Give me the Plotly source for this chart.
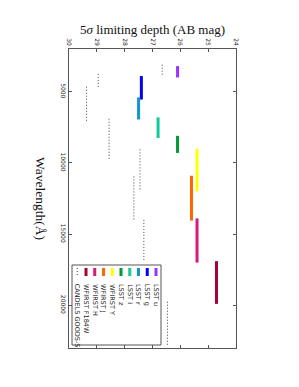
import plotly.graph_objects as go

# ---- data ----
filters = ["LSST u", "LSST g", "LSST r", "LSST i", "LSST z",
           "WFIRST Y", "WFIRST J", "WFIRST H", "WFIRST F184W"]
filter_colors = ["#9933ff", "#0000ff", "#1094d2", "#11cc99", "#009933",
                 "#ffff00", "#ff6600", "#d6197a", "#a8003a"]
wl_min = [3200, 3900, 5400, 6800, 8100, 9000, 10900, 13900, 16900]
wl_max = [4000, 5550, 6950, 8250, 9300, 12000, 14050, 17000, 19900]
depth = [26.1, 27.4, 27.5, 26.8, 26.1, 25.4, 25.6, 25.4, 24.7]

candels_name = "CANDELS GOODS-S"
candels_min = [3100, 3750, 4650, 6900, 9050, 10950, 14000, 19750]
candels_max = [3870, 4770, 7100, 9780, 11980, 13990, 16920, 22800]
candels_depth = [26.65, 28.95, 29.37, 28.56, 27.45, 27.67, 27.31, 26.46]

mag_ticks = [30, 29, 28, 27, 26, 25, 24]
wl_ticks = [5000, 10000, 15000, 20000]

# ---- layout geometry (screen pixels; page body adds an 8px offset) ----
W, H = 299, 387
OFF = 8
PW, PH = 167, 299
L, T = 69 - OFF, 49 - OFF
R, B = W - L - PW, H - T - PH


def px(xs):
    return (xs - OFF - L) / PW


def py(ys):
    return 1 - (ys - OFF - T) / PH


fig = go.Figure()

# CANDELS dotted segments
cx, cy = [], []
for a, b, d in zip(candels_min, candels_max, candels_depth):
    cx += [d, d, None]
    cy += [a, b, None]
fig.add_trace(go.Scatter(x=cx, y=cy, mode="lines", name=candels_name,
                         line=dict(color="#444444", width=1, dash="1px,2px"),
                         showlegend=False, hoverinfo="skip"))

for name, col, a, b, d in zip(filters, filter_colors, wl_min, wl_max, depth):
    fig.add_trace(go.Scatter(x=[d, d], y=[a, b], mode="lines", name=name,
                             line=dict(color=col, width=3),
                             showlegend=False, hoverinfo="skip"))

axis_common = dict(showline=True, linecolor="#555555", linewidth=1, mirror="ticks",
                   ticks="inside", ticklen=3, tickcolor="#555555", showgrid=False,
                   zeroline=False, tickangle=90,
                   tickfont=dict(family="DejaVu Sans", size=6, color="#222222"))

fig.update_xaxes(range=[30, 24], side="top", tickvals=mag_ticks,
                 ticktext=[str(t) for t in mag_ticks], **axis_common)
fig.update_yaxes(range=[23000, 2000], tickvals=wl_ticks,
                 ticktext=[str(t) for t in wl_ticks], **axis_common)

annotations = [
    dict(text="5<i>σ</i> limiting depth (AB mag)", x=px(152.5), y=py(29), xref="paper", yref="paper",
         showarrow=False, xanchor="center", yanchor="middle",
         font=dict(family="Liberation Serif", size=13, color="#111111")),
    dict(text="Wavelength(Å)", x=px(41), y=py(198), xref="paper", yref="paper",
         showarrow=False, xanchor="center", yanchor="middle", textangle=90,
         font=dict(family="Liberation Serif", size=13.5, color="#111111")),
]

shapes = [dict(type="rect", xref="paper", yref="paper",
               x0=px(72), x1=px(161), y0=py(345), y1=py(265),
               line=dict(color="#555555", width=1), fillcolor="white", layer="above")]

legend_names = filters + [candels_name]
legend_colors = filter_colors + ["#444444"]
for i, (nm, col) in enumerate(zip(legend_names, legend_colors)):
    xe = 156 - i * 8.75
    if nm == candels_name:
        shapes.append(dict(type="line", xref="paper", yref="paper",
                           x0=px(xe), x1=px(xe), y0=py(268), y1=py(276),
                           line=dict(color=col, width=1, dash="1px,2px"), layer="above"))
    else:
        shapes.append(dict(type="line", xref="paper", yref="paper",
                           x0=px(xe), x1=px(xe), y0=py(268), y1=py(276),
                           line=dict(color=col, width=3), layer="above"))
    annotations.append(dict(text=nm, x=px(xe), y=py(282), xref="paper", yref="paper",
                            showarrow=False, xanchor="center", yanchor="top", textangle=90,
                            font=dict(family="DejaVu Sans", size=6.5, color="#222222")))

fig.update_layout(width=W, height=H, margin=dict(l=L, r=R, t=T, b=B, pad=0),
                  paper_bgcolor="white", plot_bgcolor="white",
                  annotations=annotations, shapes=shapes, showlegend=False)

fig.write_html("out.html")
